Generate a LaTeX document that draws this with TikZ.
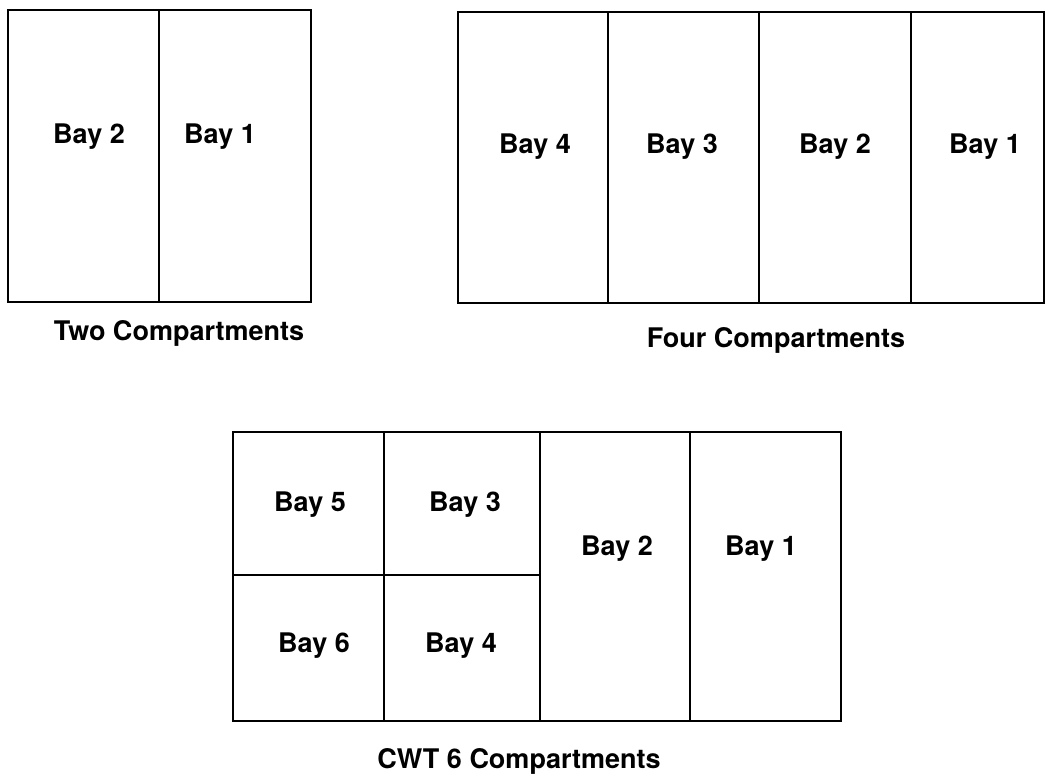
\documentclass[tikz,border=0pt]{standalone}
\usepackage{fontspec}
\setmainfont{TeX Gyre Heros}
\begin{document}
\begin{tikzpicture}[x=1pt,y=-1pt,
  outer/.style={line width=2.4pt},
  inner/.style={line width=1.8pt},
  bay/.style={font=\fontsize{27}{30}\selectfont\bfseries, inner sep=0pt},
  caption/.style={font=\fontsize{27}{30}\selectfont\bfseries, inner sep=0pt}]
\clip (0,0) rectangle (1049,778);
\fill[white] (0,0) rectangle (1049,778);
% Two compartments
\draw[outer] (8,10) rectangle (311,302);
\draw[inner] (159,10) -- (159,302);
\node[bay] (t2) at (89,137) {Bay 2};
\node[bay] (t1) at (220,137) {Bay 1};
\node[caption] (tcap) at (179,333) {Two Compartments};
% Four compartments
\draw[outer] (458,12) rectangle (1044,303);
\draw[inner] (608,12) -- (608,303);
\draw[inner] (759,12) -- (759,303);
\draw[inner] (911,12) -- (911,303);
\node[bay] (f4) at (535,147) {Bay 4};
\node[bay] (f3) at (682,147) {Bay 3};
\node[bay] (f2) at (835,147) {Bay 2};
\node[bay] (f1) at (985,147) {Bay 1};
\node[caption] (fcap) at (776,340) {Four Compartments};
% CWT 6 compartments
\draw[outer] (233,432) rectangle (841,721);
\draw[inner] (384,432) -- (384,721);
\draw[inner] (540,432) -- (540,721);
\draw[inner] (690,432) -- (690,721);
\draw[inner] (233,575) -- (540,575);
\node[bay] (c5) at (310,505) {Bay 5};
\node[bay] (c3) at (465,505) {Bay 3};
\node[bay] (c2) at (617,549) {Bay 2};
\node[bay] (c1) at (761,549) {Bay 1};
\node[bay] (c6) at (314,646) {Bay 6};
\node[bay] (c4) at (461,646) {Bay 4};
\node[caption] (ccap) at (519,761) {CWT 6 Compartments};
\end{tikzpicture}
\end{document}
